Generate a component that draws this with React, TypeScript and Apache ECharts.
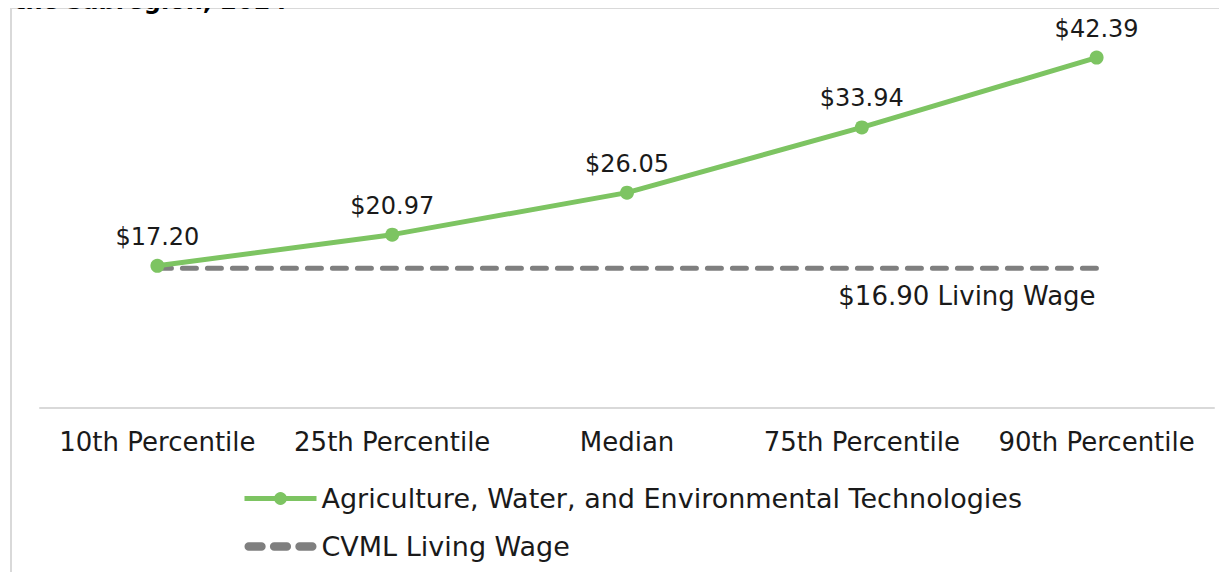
import React, { useEffect, useRef } from "react";
import * as echarts from "echarts";

const categories = ["10th Percentile", "25th Percentile", "Median", "75th Percentile", "90th Percentile"];
const sectorWages = [17.2, 20.97, 26.05, 33.94, 42.39];
const livingWage = [16.9, 16.9, 16.9, 16.9, 16.9];
const sectorName = "Agriculture, Water, and Environmental Technologies";
const livingName = "CVML Living Wage";
const livingLabel = "$16.90 Living Wage";
const titleText = "the subregion, 2024";

const FONT = "DejaVu Sans";
const DASH_ICON = "path://M4,0h12a4,4 0 0 1 0,8h-12a4,4 0 0 1 0,-8z M28,0h12a4,4 0 0 1 0,8h-12a4,4 0 0 1 0,-8z M52,0h12a4,4 0 0 1 0,8h-12a4,4 0 0 1 0,-8z";

export default function App() {
  const ref = useRef<HTMLDivElement>(null);
  useEffect(() => {
    if (!ref.current) return;
    const chart = echarts.init(ref.current, undefined, { renderer: "svg" });
    chart.setOption({
      animation: false,
      textStyle: { fontFamily: FONT },
      graphic: [
        {
          type: "rect",
          shape: { x: 11, y: 8, width: 1240, height: 600 },
          style: { fill: "none", stroke: "#d9d9d9", lineWidth: 2 },
          silent: true,
        },
        {
          type: "text",
          x: 14,
          y: 13,
          style: { text: titleText, font: `bold 24px ${FONT}`, fill: "#000", verticalAlign: "bottom" },
        },
      ],
      grid: { left: 40, right: 13, top: 36, height: 372 },
      xAxis: {
        type: "category",
        data: categories,
        axisLine: { lineStyle: { color: "#d9d9d9", width: 2 } },
        axisTick: { show: false },
        axisLabel: { color: "#1a1a1a", fontSize: 26, margin: 21, fontFamily: FONT, interval: 0 },
      },
      yAxis: {
        type: "value",
        min: 0,
        max: 45,
        show: false,
        splitLine: { show: false },
      },
      legend: {
        orient: "vertical",
        left: 237,
        top: 480,
        itemGap: 21,
        itemWidth: 72,
        itemHeight: 16,
        lineStyle: { width: 5 },
        textStyle: { fontSize: 27, color: "#1a1a1a", fontFamily: FONT },
        data: [
          { name: sectorName },
          { name: livingName, icon: DASH_ICON, itemStyle: { color: "#7f7f7f" } },
        ],
      },
      series: [
        {
          name: livingName,
          type: "line",
          data: livingWage,
          symbol: "none",
          lineStyle: { color: "#7f7f7f", width: 5, type: [14, 11], cap: "round" },
          itemStyle: { color: "#7f7f7f" },
          endLabel: {
            show: true,
            formatter: livingLabel,
            align: "right",
            verticalAlign: "top",
            offset: [-9, 15],
            fontSize: 26,
            color: "#1a1a1a",
            fontFamily: FONT,
          },
          z: 1,
        },
        {
          name: sectorName,
          type: "line",
          data: sectorWages,
          symbol: "circle",
          symbolSize: 14,
          lineStyle: { color: "#7dc462", width: 5 },
          itemStyle: { color: "#7dc462" },
          label: {
            show: true,
            position: "top",
            distance: 10,
            fontSize: 24,
            color: "#1a1a1a",
            fontFamily: FONT,
            formatter: (p: any) => "$" + p.value.toFixed(2),
          },
          z: 2,
        },
      ],
    });
    return () => chart.dispose();
  }, []);
  return <div ref={ref} style={{ width: 1227, height: 580, margin: -8 }} />;
}
